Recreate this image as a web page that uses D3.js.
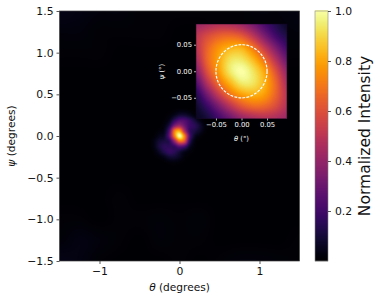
<!DOCTYPE html>
<html><head><meta charset="utf-8">
<script src="https://cdn.jsdelivr.net/npm/d3@7"></script>
<style>html,body{margin:0;padding:0;background:#fff}svg{display:block;font-family:"DejaVu Sans",sans-serif}</style>
</head><body><div id="c"></div>
<script>
const backgroundValues = [
[.04,.03,.02,.02,.01,.01,.01,.01,.01,.01,.02,.02,.03],
[.02,.02,.01,.01,.01,.01,.002,.002,.01,.01,.01,.015,.02],
[.01,.01,.01,.002,.002,.002,.002,.002,.002,.002,.002,.01,.01],
[.002,.002,.002,.002,.002,.002,.002,.002,.002,.002,.002,.002,.002],
[.002,.002,.002,.002,.002,.002,.002,.002,.002,.002,.002,.002,.002],
[.002,.002,.002,.002,.002,.002,.002,.002,.002,.002,.002,.002,.002],
[.002,.002,.002,.002,.002,.002,.002,.002,.002,.002,.002,.002,.002],
[.002,.002,.002,.002,.002,.002,.002,.002,.002,.002,.002,.002,.002],
[.002,.002,.002,.002,.002,.002,.002,.002,.002,.002,.002,.002,.002],
[.002,.002,.002,.01,.002,.002,.002,.002,.002,.002,.002,.002,.002],
[.01,.01,.002,.01,.01,.015,.01,.015,.002,.002,.002,.002,.002],
[.015,.03,.02,.01,.002,.015,.01,.01,.002,.002,.002,.002,.01],
[.04,.03,.01,.002,.002,.002,.01,.002,.01,.02,.02,.015,.01]];
const backgroundAxis = [-1.5,-1.25,-1,-.75,-.5,-.25,0,.25,.5,.75,1,1.25,1.5];

const coreAxis = [-.375,-.3125,-.25,-.1875,-.125,-.0625,0,.0625,.125,.1875,.25,.3125,.375];
const coreValues = [
[0,0,0,0,0,0,0,0,0,0,0,0,0],
[0,0,0,0,.005,.012,.02,.02,.012,.005,0,0,0],
[0,0,0,.005,.02,.05,.09,.09,.06,.025,.005,0,0],
[0,0,0,.012,.05,.16,.24,.23,.17,.1,.04,.005,0],
[0,0,.005,.03,.12,.34,.42,.3,.19,.15,.09,.025,0],
[0,.005,.02,.05,.24,.7,.8,.45,.18,.12,.07,.02,0],
[0,.015,.05,.08,.28,.7,1,.72,.24,.07,.025,.005,0],
[0,.04,.09,.11,.15,.4,.68,.6,.17,.03,.005,0,0],
[0,.04,.11,.15,.15,.17,.26,.22,.07,.015,0,0,0],
[0,.02,.07,.13,.17,.15,.1,.05,.02,.005,0,0,0],
[0,.005,.02,.05,.09,.09,.06,.02,.005,0,0,0,0],
[0,0,0,.008,.02,.025,.015,.005,0,0,0,0,0],
[0,0,0,0,0,0,0,0,0,0,0,0,0]];

const insetAxis = [-.089,-.06675,-.0445,-.02225,0,.02225,.0445,.06675,.089];
const insetValues = [
[.42,.45,.48,.47,.42,.33,.22,.13,.07],
[.5,.58,.64,.66,.62,.5,.34,.2,.12],
[.5,.65,.76,.82,.82,.7,.52,.34,.2],
[.45,.66,.8,.92,.93,.84,.68,.48,.3],
[.36,.6,.78,.94,1,.93,.8,.6,.4],
[.24,.48,.68,.83,.94,.93,.83,.66,.46],
[.13,.32,.52,.68,.78,.82,.78,.65,.5],
[.08,.18,.33,.48,.6,.66,.65,.58,.48],
[.06,.1,.2,.3,.4,.45,.48,.46,.42]];

const mainTicksX = [-1,0,1];
const mainTicksY = [-1.5,-1,-.5,0,.5,1,1.5];
const insetTicks = [-.05,0,.05];
const barTicks = [.2,.4,.6,.8,1];
const apertureRadius = .05;

const W=380,H=302;
const color = d3.scaleSequential(d3.interpolateInferno).domain([0,1]).clamp(true);
const x = d3.scaleLinear().domain([-1.5,1.5]).range([59.5,299.5]);
const y = d3.scaleLinear().domain([-1.5,1.5]).range([261,11]);
const ix = d3.scaleLinear().domain([-.089,.089]).range([196,287]);
const iy = d3.scaleLinear().domain([-.089,.089]).range([118.5,24]);
const barY = d3.scaleLinear().domain([0,1]).range([261,11]);

function cubic(p0,p1,p2,p3,t){return p1+.5*t*(p2-p0+t*(2*p0-5*p1+4*p2-p3+t*(3*(p1-p2)+p3-p0)));}
function sampler(axis,values){
  const toI=d3.scaleLinear().domain(d3.extent(axis)).range([0,axis.length-1]);
  const n=axis.length, at=(r,c)=>values[Math.max(0,Math.min(n-1,r))][Math.max(0,Math.min(n-1,c))];
  return (px,py)=>{
    const cf=toI(px), rf=(n-1)-toI(py);
    if(cf<0||rf<0||cf>n-1||rf>n-1) return 0;
    const c=Math.min(n-2,Math.floor(cf)), r=Math.min(n-2,Math.floor(rf)), tc=cf-c, tr=rf-r;
    const row=k=>cubic(at(k,c-1),at(k,c),at(k,c+1),at(k,c+2),tc);
    return Math.max(0,cubic(row(r-1),row(r),row(r+1),row(r+2),tr));
  };
}
function heat(xs,ys,fn){
  const [x0,x1]=xs.range(), [y1,y0]=ys.range();
  const w=Math.round(x1-x0), h=Math.round(y1-y0);
  const cv=document.createElement('canvas'); cv.width=w; cv.height=h;
  const ctx=cv.getContext('2d'); const img=ctx.createImageData(w,h);
  for(let j=0;j<h;j++)for(let i=0;i<w;i++){
    const c=d3.rgb(color(fn(xs.invert(x0+i+.5),ys.invert(y0+j+.5)))), o=(j*w+i)*4;
    img.data[o]=c.r;img.data[o+1]=c.g;img.data[o+2]=c.b;img.data[o+3]=255;
  }
  ctx.putImageData(img,0,0);
  return {href:cv.toDataURL(),x:x0,y:y0,w,h};
}
const svg=d3.select('#c').append('svg').attr('width',W).attr('height',H);
function place(o){svg.append('image').attr('href',o.href).attr('x',o.x).attr('y',o.y).attr('width',o.w).attr('height',o.h);}

const bg=sampler(backgroundAxis,backgroundValues), core=sampler(coreAxis,coreValues), inset=sampler(insetAxis,insetValues);
place(heat(x,y,(a,b)=>Math.max(bg(a,b),core(a,b))));

function styleAxis(g,col,fs,sw){
  g.selectAll('text').attr('fill',col).style('font-size',fs+'px').style('font-family','"DejaVu Sans"');
  g.selectAll('line').attr('stroke',col).attr('stroke-width',sw);
  g.select('.domain').remove();
}
const gx=svg.append('g').attr('transform','translate(0,261)').call(d3.axisBottom(x).tickValues(mainTicksX).tickSize(3).tickPadding(3).tickFormat(d3.format('d')));
styleAxis(gx,'#111',10.8,.7);
const gy=svg.append('g').attr('transform','translate(59.5,0)').call(d3.axisLeft(y).tickValues(mainTicksY).tickSize(3).tickPadding(3).tickFormat(d3.format('.1f')));
styleAxis(gy,'#111',10.8,.7);
svg.append('rect').attr('x',59.5).attr('y',11).attr('width',240).attr('height',250).attr('fill','none').attr('stroke','#444').attr('stroke-width',.7);

function label(t,px,py,fs,col,rot,greek){
  const e=svg.append('text').attr('text-anchor','middle').attr('fill',col).style('font-size',fs+'px')
    .attr('transform',`translate(${px},${py})`+(rot?' rotate(-90)':''));
  if(greek){e.append('tspan').style('font-style','italic').text(greek);}
  e.append('tspan').text(t);
}
label(' (degrees)',179.5,291,10.6,'#111',false,'θ');
label(' (degrees)',15,136,10.6,'#111',true,'ψ');

place(heat(ix,iy,inset));
svg.append('rect').attr('x',196).attr('y',24).attr('width',91).attr('height',94.5).attr('fill','none').attr('stroke','#14061f').attr('stroke-width',.5);
svg.append('ellipse').attr('cx',ix(0)).attr('cy',iy(0)).attr('rx',ix(apertureRadius)-ix(0)).attr('ry',iy(0)-iy(apertureRadius))
  .attr('fill','none').attr('stroke','#fff').attr('stroke-width',1.2).attr('stroke-dasharray','2.8 1.3');
const igx=svg.append('g').attr('transform','translate(0,118.5)').call(d3.axisBottom(ix).tickValues(insetTicks).tickSize(2).tickPadding(2).tickFormat(d3.format('.2f')));
styleAxis(igx,'#fff',6.8,.7);
const igy=svg.append('g').attr('transform','translate(196,0)').call(d3.axisLeft(iy).tickValues(insetTicks).tickSize(2).tickPadding(2).tickFormat(d3.format('.2f')));
styleAxis(igy,'#fff',6.8,.7);
label(' (°)',241.5,141,6.8,'#fff',false,'θ');
label(' (°)',164,71.5,6.8,'#fff',true,'ψ');

svg.append('g').selectAll('rect').data(d3.range(0,1.0001,.004)).join('rect')
  .attr('x',315).attr('width',13).attr('y',d=>barY(d)-1).attr('height',1.2).attr('fill',d=>color(d));
svg.append('rect').attr('x',315).attr('y',11).attr('width',13).attr('height',250).attr('fill','none').attr('stroke','#888').attr('stroke-width',.6);
const gb=svg.append('g').attr('transform','translate(328,0)').call(d3.axisRight(barY).tickValues(barTicks).tickSize(3).tickPadding(4).tickFormat(d3.format('.1f')));
styleAxis(gb,'#111',10.8,.7);
label('Normalized Intensity',370,136,15.5,'#111',true);
</script></body></html>
